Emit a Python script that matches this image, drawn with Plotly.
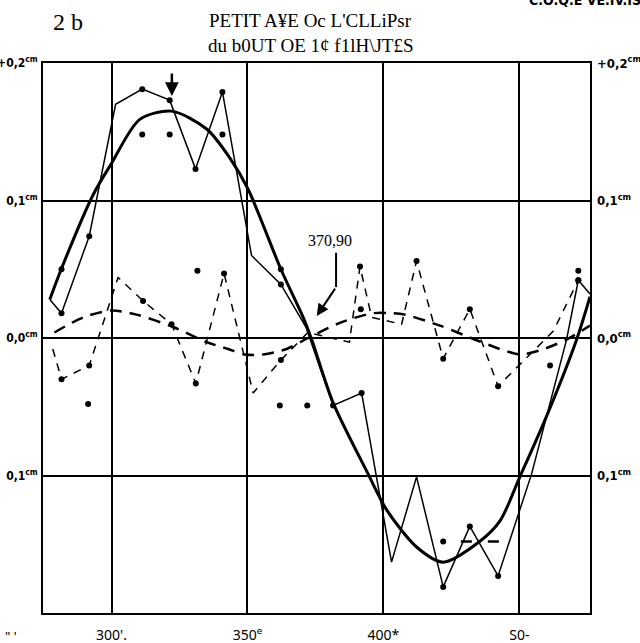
import plotly.graph_objects as go

# axis ticks
x_ticks = [300, 350, 400, 450]
x_ticktext = ["300'.", "350<sup>e</sup>", "400*", "S0-"]
y_ticks = [0.2, 0.1, 0.0, -0.1]
y_ticktext_left = ["+0,2<sup>cm</sup>", "0,1<sup>cm</sup>", "0,0<sup>cm</sup>", "0,1<sup>cm</sup>"]
y_ticktext_right = ["+0,2<sup>cm</sup>", "0,1<sup>cm</sup>", "0,0<sup>cm</sup>", "0,1<sup>cm</sup>"]

# thick fitted curve (solid)
fit_x = [277.3, 281.5, 293.2, 299.7, 310.4, 322.1, 335.0, 343.5, 350.3, 362.3, 370.5, 373.6,
         381.5, 394.4, 401.2, 412.2, 422.0, 435.4, 442.9, 450.2, 460.0, 471.1, 476.0]
fit_y = [0.028, 0.050, 0.104, 0.126, 0.159, 0.165, 0.152, 0.131, 0.108, 0.050, 0.015, -0.001,
         -0.047, -0.099, -0.125, -0.152, -0.163, -0.148, -0.133, -0.101, -0.057, -0.001, 0.030]

# thick dashed curve (small wave)
wave_x = [279.0, 289.6, 300.0, 309.2, 322.7, 335.0, 342.9, 349.0, 355.8, 364.4, 372.3, 384.0,
          396.1, 403.5, 407.9, 420.8, 434.8, 442.9, 450.3, 457.6, 467.5, 476.0]
wave_y = [0.004, 0.015, 0.020, 0.017, 0.008, -0.003, -0.008, -0.012, -0.012, -0.008, 0.000, 0.011,
          0.018, 0.018, 0.017, 0.009, -0.002, -0.008, -0.012, -0.009, -0.001, 0.009]

# observed values, thin solid line
obs_x = [277.3, 281.6, 291.8, 301.5, 311.3, 321.4, 330.9, 340.8, 351.5, 362.3, 371.5, 381.5,
         392.0, 403.0, 412.2, 422.0, 431.8, 442.2, 454.5, 467.4, 471.7, 476.0]
obs_y = [0.028, 0.018, 0.074, 0.170, 0.181, 0.173, 0.123, 0.179, 0.060, 0.039, 0.008, -0.049,
         -0.040, -0.163, -0.101, -0.181, -0.137, -0.173, -0.099, -0.001, 0.042, 0.032]
obs_marked = [0, 1, 1, 0, 1, 1, 1, 1, 0, 1, 0, 1, 1, 0, 0, 1, 1, 1, 0, 0, 1, 0]

# residuals, thin dashed line
dev_x = [278.4, 281.6, 291.8, 299.7, 302.4, 311.6, 322.1, 331.0, 341.4, 352.1, 362.3, 372.2,
         387.5, 391.4, 395.7, 406.7, 412.2, 422.0, 431.8, 442.2, 462.5, 471.7]
dev_y = [-0.008, -0.030, -0.020, 0.027, 0.044, 0.027, 0.010, -0.033, 0.047, -0.040, -0.016, 0.004,
         -0.003, 0.052, 0.015, 0.010, 0.056, -0.015, 0.021, -0.035, 0.005, 0.042]
dev_marked = [0, 1, 1, 0, 0, 1, 1, 1, 1, 0, 1, 0, 0, 1, 0, 0, 1, 1, 1, 1, 0, 1]

# loose points
pt_x = [281.6, 291.4, 311.3, 321.4, 331.6, 340.8, 362.3, 361.9, 372.0, 391.7, 422.0, 461.3, 471.7]
pt_y = [0.050, -0.048, 0.148, 0.148, 0.049, 0.148, 0.050, -0.049, -0.049, 0.021, -0.148, -0.020, 0.049]

# short dashed level near the minimum
seg_x = [428.5, 444.0]
seg_y = [-0.148, -0.148]

fig = go.Figure()

fig.add_trace(go.Scatter(
    x=fit_x, y=fit_y, mode='lines',
    line=dict(color='black', width=3, shape='spline', smoothing=0.8),
    hoverinfo='skip'
))
fig.add_trace(go.Scatter(
    x=wave_x, y=wave_y, mode='lines',
    line=dict(color='black', width=2.5, dash='12px,8px', shape='spline', smoothing=0.8),
    hoverinfo='skip'
))
fig.add_trace(go.Scatter(
    x=obs_x, y=obs_y, mode='lines+markers',
    line=dict(color='black', width=1.5),
    marker=dict(color='black', opacity=1, line=dict(width=0),
                size=[6 if m else 0 for m in obs_marked]),
))
fig.add_trace(go.Scatter(
    x=dev_x, y=dev_y, mode='lines+markers',
    line=dict(color='black', width=1.5, dash='8px,7px'),
    marker=dict(color='black', opacity=1, line=dict(width=0),
                size=[6 if m else 0 for m in dev_marked]),
))
fig.add_trace(go.Scatter(
    x=seg_x, y=seg_y, mode='lines',
    line=dict(color='black', width=2.5, dash='11px,16px'),
))
# loose points drawn on the right-hand axis (same scale)
fig.add_trace(go.Scatter(
    x=pt_x, y=pt_y, mode='markers', yaxis='y2',
    marker=dict(color='black', size=6, line=dict(width=0)),
))

serif = 'Liberation Serif'
annotations = [
    dict(text='2 b', x=68, y=22,
         font=dict(family=serif, size=24, color='black')),
    dict(text="PETIT A¥E Oc L'CLLiPsr", x=310, y=20,
         font=dict(family=serif, size=19, color='black')),
    dict(text="du b0UT OE 1¢ f1lH\\JT£S", x=310, y=45,
         font=dict(family=serif, size=19, color='black')),
    dict(text='C.O.Q.E VE.IV.IS', x=585, y=0,
         font=dict(family='DejaVu Sans Condensed', size=14, color='black', weight='bold')),
    dict(text='" \'', x=11, y=636,
         font=dict(family='Noto Sans', size=13, color='black')),
]
# convert pixel positions of the free texts into paper coordinates
for a in annotations:
    a['x'] = (a['x'] - 43) / 547
    a['y'] = (613 - a['y']) / 550
    a.update(xref='paper', yref='paper', xanchor='center', yanchor='middle', showarrow=False)

annotations += [
    dict(text='370,90', x=380.5, y=0.071, xref='x', yref='y', showarrow=False,
         font=dict(family=serif, size=16, color='black')),
    dict(text='', x=375.5, y=0.016, xref='x', yref='y', ax=382.6, ay=0.037,
         axref='x', ayref='y', showarrow=True, arrowhead=2, arrowsize=1.2,
         arrowwidth=2, arrowcolor='black'),
    dict(text='', x=322.2, y=0.176, xref='x', yref='y', ax=0, ay=-24,
         showarrow=True, arrowhead=2, arrowsize=1.1, arrowwidth=2.5, arrowcolor='black'),
]

fig.update_layout(
    width=640, height=643,
    margin=dict(l=43, r=50, t=63, b=30, autoexpand=False),
    template='plotly_white',
    plot_bgcolor='white',
    paper_bgcolor='white',
    showlegend=False,
    annotations=annotations,
    shapes=[dict(type='line', xref='x', yref='y', x0=382.6, x1=382.6, y0=0.062, y1=0.037,
                 line=dict(color='black', width=2))],
    xaxis=dict(
        range=[274.8, 476.0], tickvals=x_ticks, ticktext=x_ticktext,
        showgrid=True, gridcolor='black', gridwidth=2, zeroline=False,
        showline=True, linecolor='black', linewidth=2, mirror=True,
        ticks='', ticklabelstandoff=8, automargin=False,
        tickfont=dict(family='Noto Sans', size=14, color='black'),
    ),
    yaxis=dict(
        range=[-0.2, 0.2], tickvals=y_ticks, ticktext=y_ticktext_left,
        showgrid=True, gridcolor='black', gridwidth=2, zeroline=False,
        showline=True, linecolor='black', linewidth=2, mirror=True,
        ticks='', ticklabelstandoff=1, automargin=False,
        tickfont=dict(family='DejaVu Sans Condensed', size=12, color='black', weight='bold'),
    ),
    yaxis2=dict(
        overlaying='y', side='right', matches='y',
        tickvals=y_ticks, ticktext=y_ticktext_right,
        showgrid=False, zeroline=False, showline=False,
        ticks='', ticklabelstandoff=6, automargin=False,
        tickfont=dict(family='DejaVu Sans Condensed', size=13, color='black', weight='bold'),
    ),
)

# the page body margin would shift the 640x643 figure off the window
fig.write_html("out.html", config={'displayModeBar': False},
               post_script="document.body.style.margin='0px';")
